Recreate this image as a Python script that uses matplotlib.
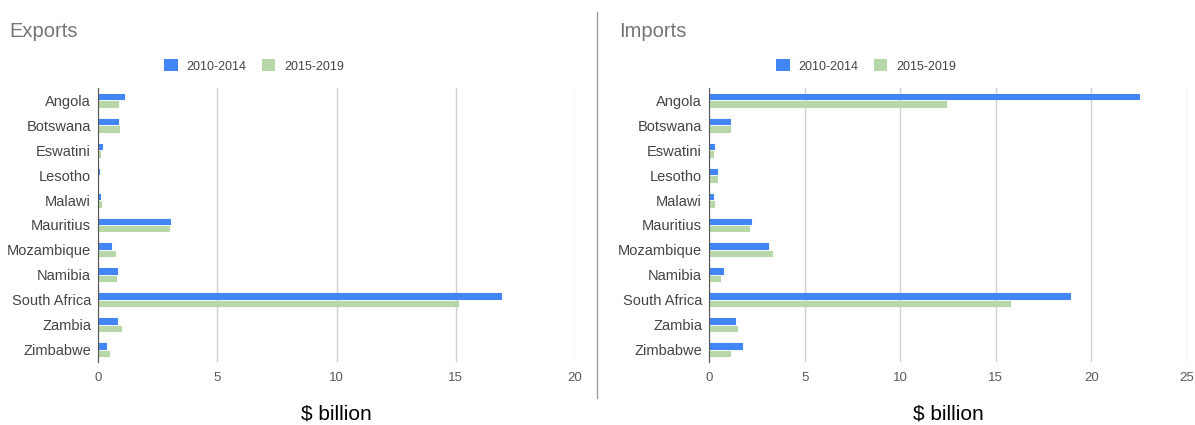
import matplotlib
matplotlib.use("Agg")
import matplotlib.pyplot as plt
import numpy as np
from matplotlib.lines import Line2D
from matplotlib.patches import Patch

plt.rcParams["font.family"] = ["Liberation Sans", "DejaVu Sans"]

countries = ["Angola", "Botswana", "Eswatini", "Lesotho", "Malawi", "Mauritius",
             "Mozambique", "Namibia", "South Africa", "Zambia", "Zimbabwe"]
series_labels = ["2010-2014", "2015-2019"]

exports_2010 = [1.09, 0.84, 0.15, 0.05, 0.08, 3.0, 0.55, 0.80, 16.9, 0.80, 0.35]
exports_2015 = [0.84, 0.88, 0.10, 0.02, 0.14, 2.96, 0.71, 0.74, 15.1, 0.95, 0.46]
imports_2010 = [22.5, 1.10, 0.28, 0.40, 0.21, 2.20, 3.10, 0.72, 18.9, 1.36, 1.73]
imports_2015 = [12.4, 1.10, 0.21, 0.40, 0.28, 2.10, 3.30, 0.58, 15.76, 1.49, 1.10]

BLUE = "#4285F4"
GREEN = "#B7D7A8"

fig = plt.figure(figsize=(11.95, 4.25), dpi=100)


def draw_panel(ax, title, v1, v2, xmax, title_x, leg_x):
    y = np.arange(len(countries))
    h = 0.22
    ax.barh(y - 0.15, v1, height=h, color=BLUE, edgecolor=BLUE,
            linewidth=0.8, joinstyle="round", zorder=3)
    ax.barh(y + 0.15, v2, height=h, color=GREEN, edgecolor=GREEN,
            linewidth=0.8, joinstyle="round", zorder=3)
    ax.set_ylim(len(countries) - 0.5, -0.5)
    ax.set_xlim(0, xmax)
    ax.set_xticks(np.arange(0, xmax + 1, 5))
    ax.set_yticks(y)
    ax.set_yticklabels(countries, fontsize=10.5, color="#444444")
    ax.tick_params(axis="x", length=0, pad=7, labelsize=9.5, labelcolor="#5a5a5a")
    ax.tick_params(axis="y", length=0, pad=5)
    ax.grid(axis="x", color="#d0d0d0", linewidth=1, zorder=0)
    for s in ("top", "right", "bottom"):
        ax.spines[s].set_visible(False)
    ax.spines["left"].set_color("#555555")
    ax.spines["left"].set_zorder(4)
    ax.set_xlabel("$ billion", fontsize=15, color="black", labelpad=15)
    fig.text(title_x, 1 - 37 / 425, title, fontsize=14.5, color="#757575",
             va="baseline", ha="left")
    handles = [Patch(facecolor=BLUE, label=series_labels[0]),
               Patch(facecolor=GREEN, label=series_labels[1])]
    fig.legend(handles=handles, loc="center", bbox_to_anchor=(leg_x, 1 - 66 / 425),
               ncol=2, frameon=False, fontsize=9, handlelength=1.1,
               handleheight=1.1, columnspacing=1.2, handletextpad=0.7,
               labelcolor="#444444")


ax1 = fig.add_axes([98 / 1195, 1 - 362 / 425, 477 / 1195, 274 / 425])
draw_panel(ax1, "Exports", exports_2010, exports_2015, 20, 9 / 1195, 254 / 1195)

ax2 = fig.add_axes([709 / 1195, 1 - 362 / 425, 478 / 1195, 274 / 425])
draw_panel(ax2, "Imports", imports_2010, imports_2015, 25, 619 / 1195, 866 / 1195)

# separator between panels
fig.add_artist(Line2D([597 / 1195, 597 / 1195], [1 - 12 / 425, 1 - 398 / 425],
                      color="#9e9e9e", linewidth=1))

fig.savefig("out.png", dpi=100)
